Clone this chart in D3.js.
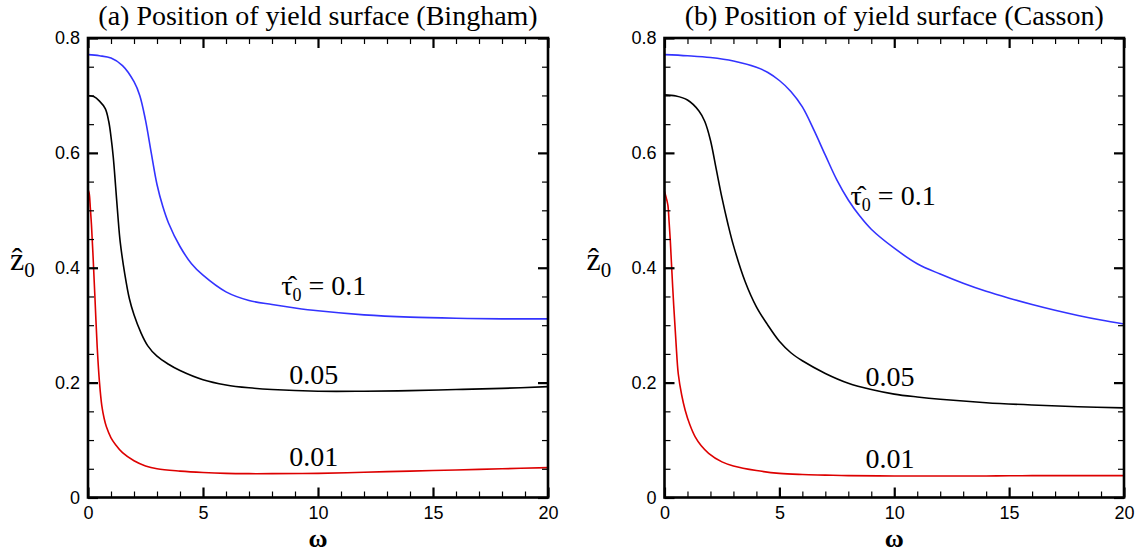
<!DOCTYPE html>
<html><head><meta charset="utf-8">
<script src="https://cdn.jsdelivr.net/npm/d3@7"></script>
<style>
html,body{margin:0;padding:0;background:#fff;}
svg{display:block;}
</style></head>
<body>
<svg id="chart" width="1141" height="553"></svg>
<script>
// ---------- data ----------
const panelTitles = ["(a) Position of yield surface (Bingham)", "(b) Position of yield surface (Casson)"];
const xMajorTicks = [0, 5, 10, 15, 20];
const xTickLabels = ["0", "5", "10", "15", "20"];
const yMajorTicks = [0, 0.2, 0.4, 0.6, 0.8];
const yTickLabels = ["0", "0.2", "0.4", "0.6", "0.8"];
const seriesNames = ["0.1", "0.05", "0.01"];

// Bingham
const bingBlueW = [0,0.5,1,1.5,2,2.25,2.5,2.75,3,3.25,3.5,4,4.5,5,6,7,8,9,10,12,14,16,18,20];
const bingBlueZ = [0.771,0.769,0.765,0.752,0.724,0.700,0.657,0.600,0.545,0.507,0.478,0.437,0.407,0.387,0.358,0.343,0.336,0.330,0.325,0.318,0.314,0.312,0.311,0.311];
const bingBlackW = [0,0.25,0.5,0.75,0.9,1,1.1,1.2,1.3,1.4,1.6,1.8,2,2.3,2.6,3,3.5,4,5,6,7,8,10,12,14,16,18,20];
const bingBlackZ = [0.700,0.698,0.690,0.677,0.655,0.628,0.592,0.542,0.490,0.445,0.389,0.346,0.318,0.287,0.264,0.246,0.232,0.221,0.205,0.196,0.191,0.188,0.185,0.185,0.186,0.188,0.190,0.193];
const bingRedW = [0,0.05,0.1,0.15,0.22,0.3,0.4,0.5,0.6,0.7,0.8,1,1.2,1.5,2,2.5,3,4,5,6,7,8,10,12,14,16,18,20];
const bingRedZ = [0.536,0.530,0.505,0.475,0.420,0.350,0.262,0.200,0.160,0.138,0.123,0.104,0.092,0.078,0.064,0.055,0.050,0.046,0.0435,0.042,0.0415,0.0415,0.042,0.044,0.046,0.048,0.050,0.052];

// Casson
const cassBlueW = [0,1,2,3,4,4.5,5,5.5,6,6.5,7,7.5,8,8.5,9,10,11,12,13,14,15,16,17,18,19,20];
const cassBlueZ = [0.771,0.769,0.766,0.760,0.749,0.740,0.726,0.707,0.680,0.640,0.596,0.553,0.518,0.490,0.467,0.434,0.407,0.389,0.373,0.359,0.347,0.336,0.326,0.317,0.309,0.302];
const cassBlackW = [0,0.5,1,1.5,1.75,2,2.25,2.5,2.75,3,3.5,4,4.5,5,5.5,6,7,8,9,10,11,12,14,16,18,20];
const cassBlackZ = [0.701,0.699,0.692,0.673,0.655,0.622,0.572,0.522,0.478,0.439,0.377,0.332,0.300,0.272,0.252,0.238,0.216,0.199,0.188,0.180,0.175,0.171,0.165,0.161,0.158,0.156];
const cassRedW = [0,0.1,0.15,0.2,0.25,0.3,0.4,0.5,0.6,0.75,0.9,1.1,1.33,1.6,1.92,2.5,3,4,5,6,7,8,10,12,14,16,18,20];
const cassRedZ = [0.533,0.518,0.508,0.480,0.449,0.410,0.335,0.270,0.215,0.178,0.152,0.127,0.106,0.090,0.077,0.062,0.055,0.047,0.042,0.040,0.039,0.038,0.0375,0.0375,0.0375,0.038,0.038,0.038];

const seriesColors = ["#3333ff", "#000000", "#dd0000"];

// ---------- layout ----------
const svg = d3.select("#chart");
const panels = [
  {left: 88, right: 548, title: panelTitles[0],
   series: [[bingBlueW, bingBlueZ], [bingBlackW, bingBlackZ], [bingRedW, bingRedZ]],
   labels: [{w: 8.4, z: 0.352}, {w: 8.75, z: 0.197}, {w: 8.75, z: 0.054}]},
  {left: 664.5, right: 1124, title: panelTitles[1],
   series: [[cassBlueW, cassBlueZ], [cassBlackW, cassBlackZ], [cassRedW, cassRedZ]],
   labels: [{w: 8.1, z: 0.510}, {w: 8.75, z: 0.194}, {w: 8.75, z: 0.051}]}
];
const plotTop = 38, plotBottom = 497.5;
const serif = "'Liberation Serif','Times New Roman',serif";
const sans = "'Liberation Sans',Arial,Helvetica,sans-serif";

panels.forEach((p, pi) => {
  const x = d3.scaleLinear().domain([0, 20]).range([p.left, p.right]);
  const y = d3.scaleLinear().domain([0, 0.8]).range([plotBottom, plotTop]);
  const g = svg.append("g");

  // title
  g.append("text").attr("x", (p.left + p.right) / 2).attr("y", 25)
    .attr("text-anchor", "middle").attr("font-family", serif).attr("font-size", 28)
    .attr("fill", "#000").text(p.title);

  // curves
  const line = d3.line().x(d => x(d[0])).y(d => y(d[1])).curve(d3.curveCatmullRom.alpha(0.5));
  p.series.forEach((s, si) => {
    const pts = s[0].map((w, i) => [w, s[1][i]]);
    g.append("path").datum(pts).attr("d", line).attr("fill", "none")
      .attr("stroke", seriesColors[si]).attr("stroke-width", 1.6);
  });

  // axes (inward ticks)
  const xMinor = d3.range(0, 21, 1).filter(v => v % 5 !== 0);
  const yMinor = d3.range(0, 17, 1).map(v => v * 0.05).filter((v, i) => i % 4 !== 0);
  const styleAxis = (sel, w) => { sel.select(".domain").remove(); sel.selectAll("line").attr("stroke", "#000").attr("stroke-width", w); };

  g.append("g").attr("transform", `translate(0,${plotBottom})`)
    .call(d3.axisBottom(x).tickValues(xMajorTicks).tickSize(-10).tickPadding(9).tickFormat((d, i) => xTickLabels[i]))
    .call(s => styleAxis(s, 2.2))
    .call(s => s.selectAll("text").attr("font-family", sans).attr("font-size", 18).attr("fill", "#000"));
  g.append("g").attr("transform", `translate(0,${plotBottom})`)
    .call(d3.axisBottom(x).tickValues(xMinor).tickSize(-6).tickFormat(""))
    .call(s => styleAxis(s, 1.2));
  g.append("g").attr("transform", `translate(0,${plotTop})`)
    .call(d3.axisTop(x).tickValues(xMajorTicks).tickSize(-10).tickFormat(""))
    .call(s => styleAxis(s, 2.2));
  g.append("g").attr("transform", `translate(0,${plotTop})`)
    .call(d3.axisTop(x).tickValues(xMinor).tickSize(-6).tickFormat(""))
    .call(s => styleAxis(s, 1.2));

  g.append("g").attr("transform", `translate(${p.left},0)`)
    .call(d3.axisLeft(y).tickValues(yMajorTicks).tickSize(-10).tickPadding(8).tickFormat((d, i) => yTickLabels[i]))
    .call(s => styleAxis(s, 2.2))
    .call(s => s.selectAll("text").attr("font-family", sans).attr("font-size", 18).attr("fill", "#000"));
  g.append("g").attr("transform", `translate(${p.left},0)`)
    .call(d3.axisLeft(y).tickValues(yMinor).tickSize(-6).tickFormat(""))
    .call(s => styleAxis(s, 1.2));
  g.append("g").attr("transform", `translate(${p.right},0)`)
    .call(d3.axisRight(y).tickValues(yMajorTicks).tickSize(-10).tickFormat(""))
    .call(s => styleAxis(s, 2.2));
  g.append("g").attr("transform", `translate(${p.right},0)`)
    .call(d3.axisRight(y).tickValues(yMinor).tickSize(-6).tickFormat(""))
    .call(s => styleAxis(s, 1.2));

  // frame
  g.append("rect").attr("x", p.left).attr("y", plotTop).attr("width", p.right - p.left)
    .attr("height", plotBottom - plotTop).attr("fill", "none").attr("stroke", "#000").attr("stroke-width", 2.6);

  // axis labels
  g.append("text").attr("x", (p.left + p.right) / 2).attr("y", 547)
    .attr("text-anchor", "middle").attr("font-family", serif).attr("font-size", 26)
    .attr("font-weight", "bold").attr("fill", "#000").text("ω");
  const zl = g.append("text").attr("x", p.left - 78).attr("y", 270)
    .attr("font-family", serif).attr("font-size", 32).attr("fill", "#000");
  zl.append("tspan").text("\u1E91");
  zl.append("tspan").attr("dy", 7).attr("font-size", 21).text("0");

  // curve labels
  p.labels.forEach((lb, li) => {
    const lx = x(lb.w), ly = y(lb.z);
    const t = g.append("text").attr("x", lx).attr("y", ly)
      .attr("font-family", serif).attr("font-size", 28).attr("fill", "#000");
    if (li === 0) {
      t.append("tspan").text("\u03C4\u0302");
      t.append("tspan").attr("dy", 6).attr("font-size", 18).text("0");
      t.append("tspan").attr("dy", -6).text(" = " + seriesNames[li]);
    } else {
      t.text(seriesNames[li]);
    }
  });
});
</script>
</body></html>
